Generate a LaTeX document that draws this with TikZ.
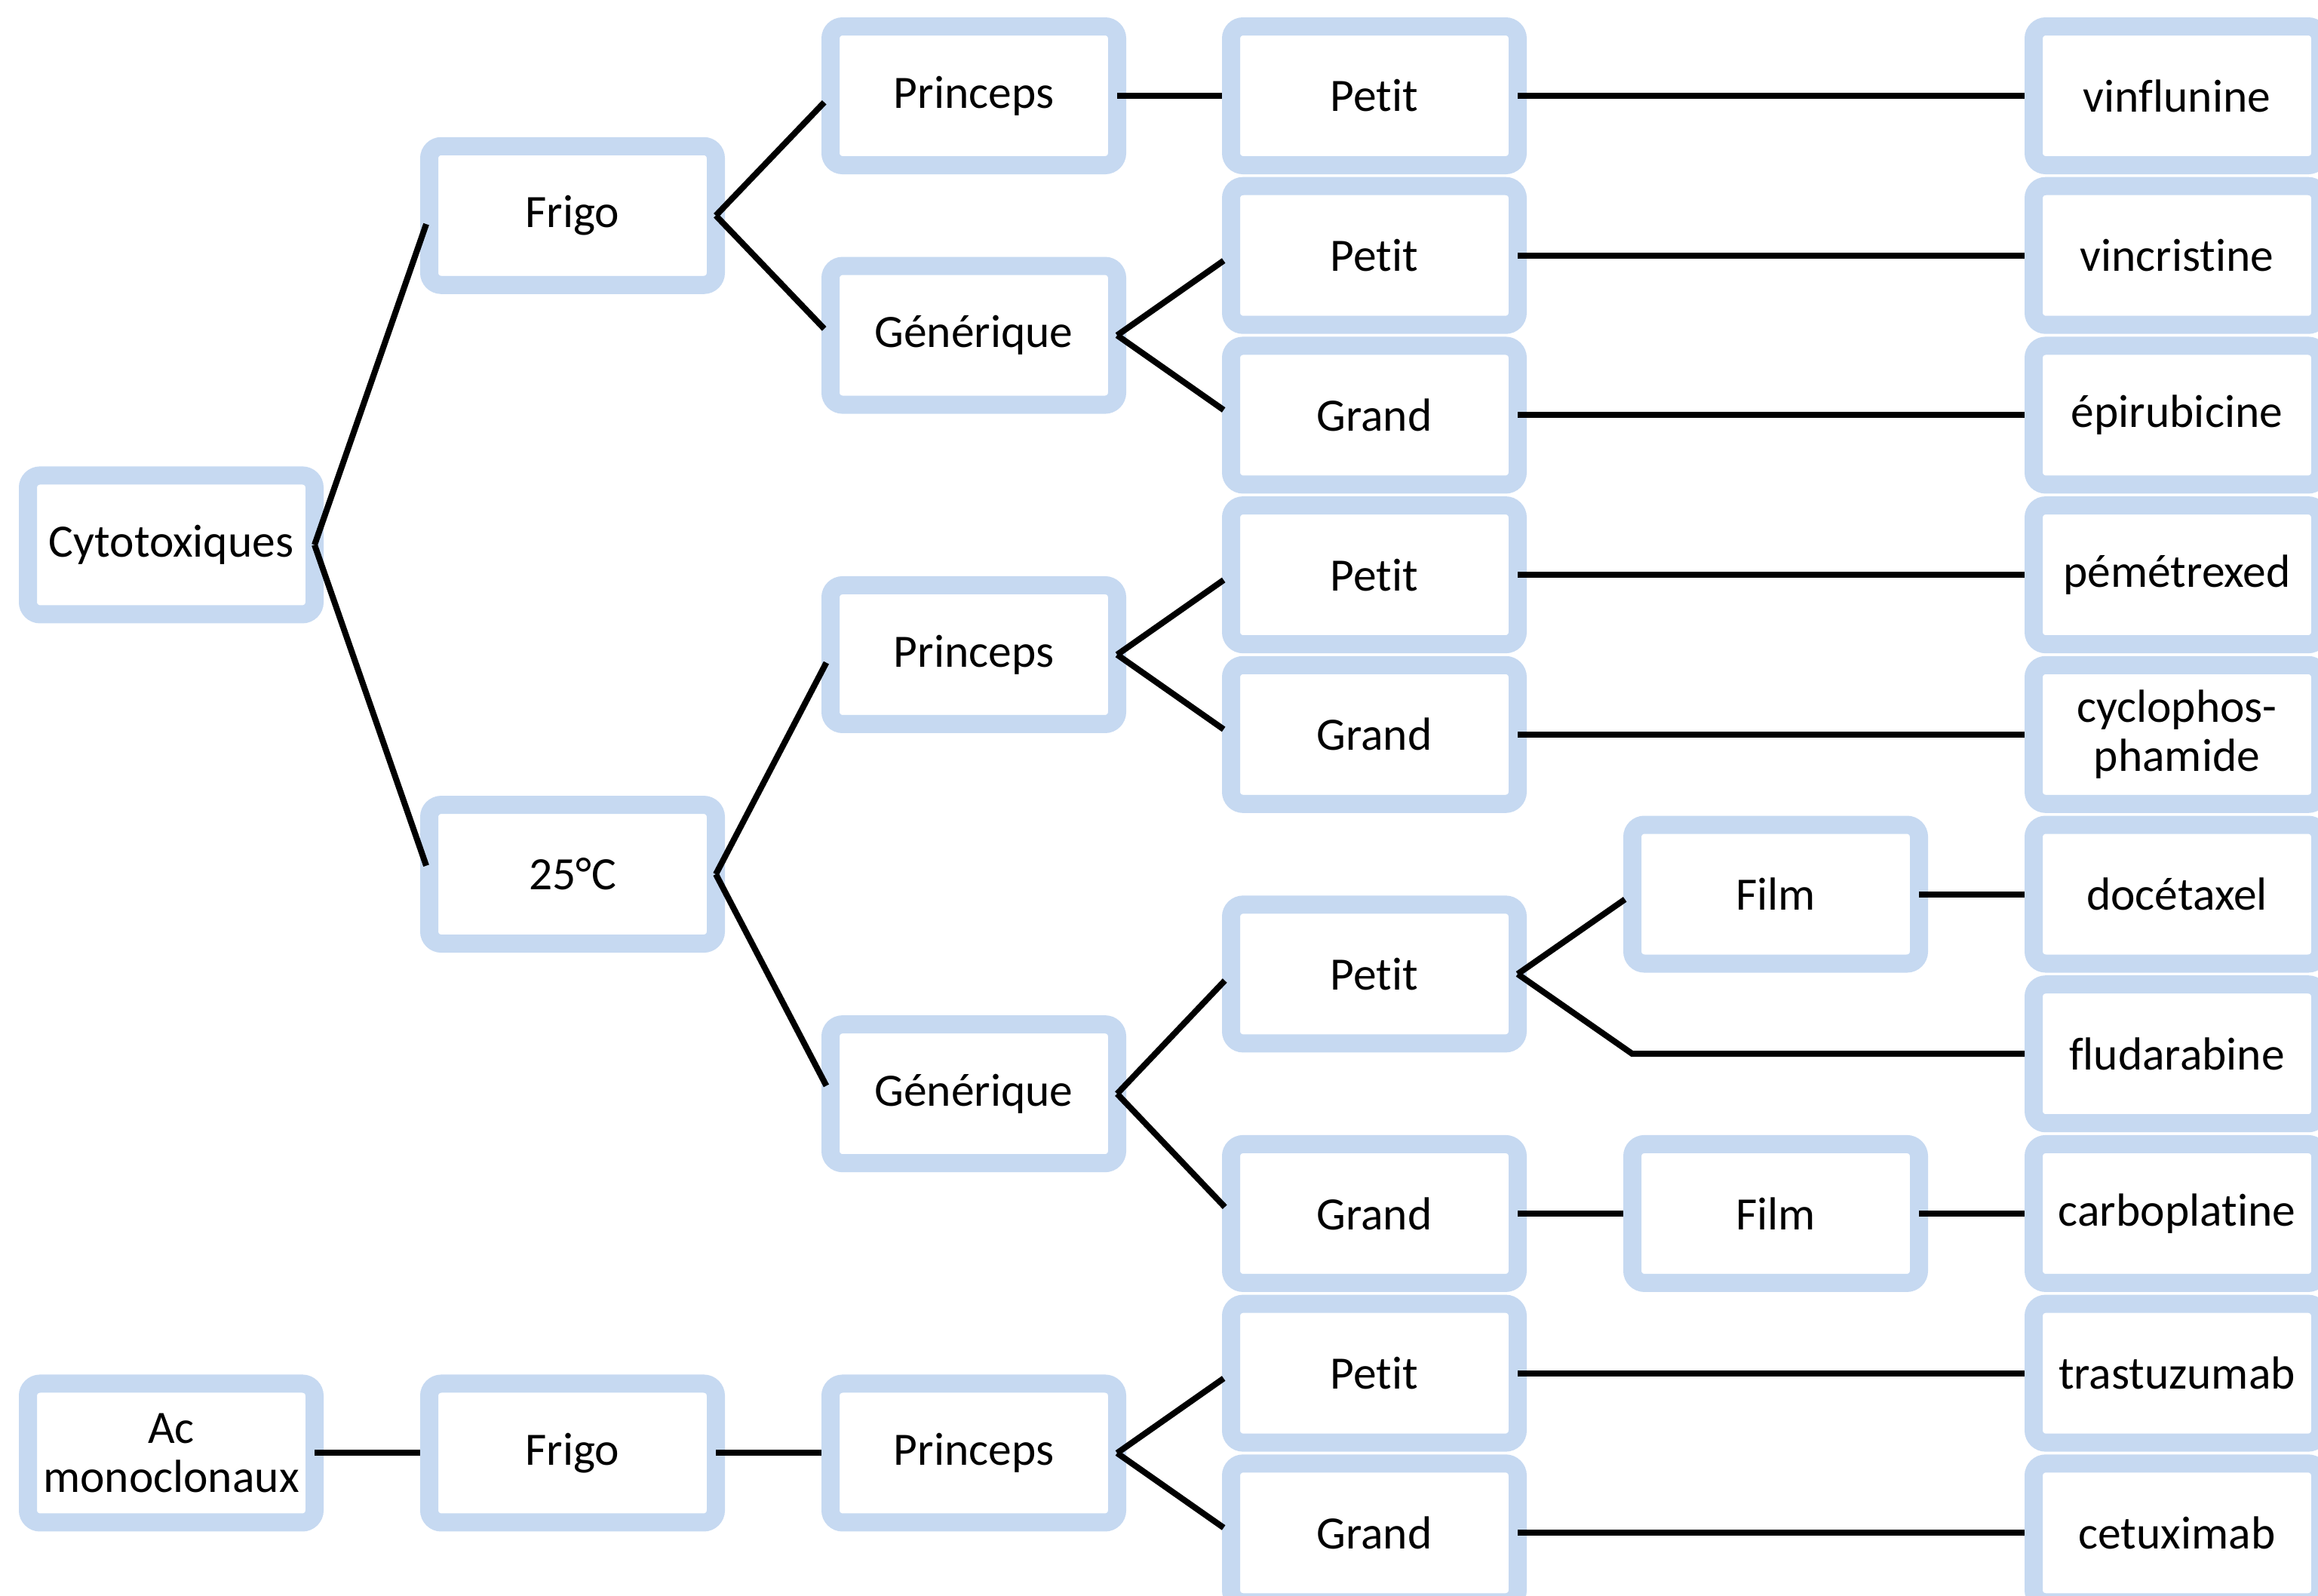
\documentclass[tikz,border=0pt]{standalone}
\usepackage{fontspec}
\setmainfont{Carlito}[Ligatures=NoCommon]
\usepackage{tikz}
\definecolor{boite}{RGB}{198,217,241}

\begin{document}
\begin{tikzpicture}[y=-2.117cm]
	\tikzset{box/.style={draw=boite,line width=2.4mm,fill=white,rounded corners=1.6mm,minimum width=3.8cm,minimum height=1.84cm,inner sep=0pt,outer sep=0pt,align=center,font=\fontsize{17.5}{18.5}\selectfont},
		lien/.style={line width=0.8mm,shorten >=1.2mm}}
	\useasboundingbox (0,-0.6) rectangle (30.73,9.3906);
	% racines et conservation
	\node [box] (cyto) at (2.27, 2.8125) {Cytotoxiques};
	\node [box] (ac) at (2.27, 8.5) {Ac\\monoclonaux};
	\node [box] (frigo) at (7.59, 0.75) {Frigo};
	\node [box] (chaud) at (7.59, 4.875) {25°C};
	\node [box] (frigob) at (7.59, 8.5) {Frigo};
	% princeps / generique
	\node [box] (pri) at (12.91, 0) {Princeps};
	\node [box] (gen) at (12.91, 1.5) {Générique};
	\node [box] (prib) at (12.91, 3.5) {Princeps};
	\node [box] (genb) at (12.91, 6.25) {Générique};
	\node [box] (pric) at (12.91, 8.5) {Princeps};
	% taille
	\node [box] (pa) at (18.22, 0) {Petit};
	\node [box] (pb) at (18.22, 1) {Petit};
	\node [box] (ga) at (18.22, 2) {Grand};
	\node [box] (pc) at (18.22, 3) {Petit};
	\node [box] (gb) at (18.22, 4) {Grand};
	\node [box] (pd) at (18.22, 5.5) {Petit};
	\node [box] (gc) at (18.22, 7) {Grand};
	\node [box] (pe) at (18.22, 8) {Petit};
	\node [box] (gd) at (18.22, 9) {Grand};
	\node [box] (filma) at (23.54, 5) {Film};
	\node [box] (filmb) at (23.54, 7) {Film};
	% molecules
	\node [box] (vinf) at (28.86, 0) {vinflunine};
	\node [box] (vinc) at (28.86, 1) {vincristine};
	\node [box] (epi) at (28.86, 2) {épirubicine};
	\node [box] (peme) at (28.86, 3) {pémétrexed};
	\node [box] (cyclo) at (28.86, 4) {cyclophos-\\phamide};
	\node [box] (doce) at (28.86, 5) {docétaxel};
	\node [box] (flu) at (28.86, 6) {fludarabine};
	\node [box] (carbo) at (28.86, 7) {carboplatine};
	\node [box] (tras) at (28.86, 8) {trastuzumab};
	\node [box] (cetux) at (28.86, 9) {cetuximab};
	% liens
	\foreach \a/\b in {cyto/frigo,cyto/chaud,frigo/pri,frigo/gen,pri/pa,gen/pb,gen/ga,
		chaud/prib,chaud/genb,prib/pc,prib/gb,genb/pd,genb/gc,pd/filma,gc/filmb,
		ac/frigob,frigob/pric,pric/pe,pric/gd,
		pa/vinf,pb/vinc,ga/epi,pc/peme,gb/cyclo,filma/doce,filmb/carbo,pe/tras,gd/cetux}
		\draw [lien] (\a.east) -- (\b.west);
	\coordinate (coude) at (filma.west |- flu.west);
	\draw [lien] (pd.east) -- (coude) -- (flu.west);
\end{tikzpicture}
\end{document}
